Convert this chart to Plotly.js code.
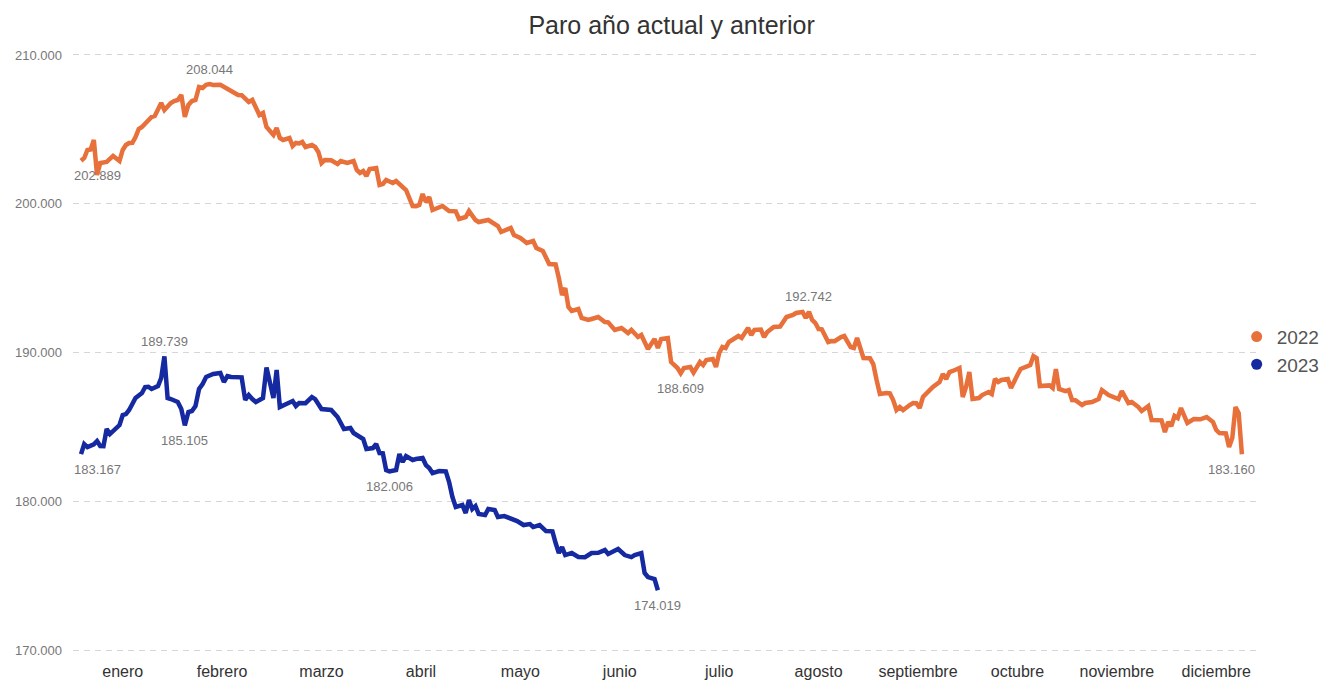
<!DOCTYPE html>
<html><head><meta charset="utf-8">
<script src="https://cdn.plot.ly/plotly-3.0.1.min.js"></script>
<style>html,body{margin:0;padding:0;background:#fff}#chart{width:1322px;height:684px}</style>
</head><body><div id="chart"></div>
<script>
const meses = ["enero","febrero","marzo","abril","mayo","junio","julio","agosto","septiembre","octubre","noviembre","diciembre"];
const series = ["2022","2023"];

const dias2022 = [3,4,5,6,7,8,9,10,11,13,14,15,16,17,18,19,20,21,22,24,25,26,27,28,29,31,
32,33,34,35,36,37,38,39,40,41,42,43,45,46,47,48,49,50,51,52,53,54,55,56,57,58,
60,61,62,63,65,66,67,68,69,70,72,73,74,75,76,78,80,81,83,85,86,87,88,89,90,
92,93,94,95,97,98,100,101,103,104,105,106,107,108,109,111,112,114,116,117,119,120,
122,123,126,127,129,130,133,134,136,138,140,141,143,145,147,148,149,150,151,
152,154,155,157,158,160,162,163,165,167,169,170,172,173,175,176,177,178,179,181,
182,184,185,186,188,189,191,192,193,195,196,197,198,199,200,202,203,204,206,207,208,210,211,212,
214,216,217,218,220,221,223,224,225,226,227,228,229,231,232,233,235,236,238,239,240,242,
244,245,246,247,249,250,251,252,253,254,256,257,258,259,260,262,263,265,266,267,268,269,271,272,273,
274,275,277,278,280,281,282,283,284,286,287,288,289,290,291,293,294,295,296,298,299,300,301,302,304,
305,306,307,309,310,312,314,315,317,318,320,321,323,324,326,327,329,330,333,334,
335,336,337,338,339,341,343,345,347,349,350,351,353,354,355,356,357,358];
const paro2022 = [202889,203075,203613,203650,204285,201930,202739,202760,202806,203210,203008,202873,203613,203949,204084,204100,204487,205025,205159,205630,205832,205900,206437,206773,206302,206773,
206907,206975,207311,205832,206639,206907,206975,207849,207781,207990,208044,207990,208000,207849,207714,207580,207378,207311,207300,207042,206840,206975,206504,205966,206101,205159,
204622,205092,204420,204285,204420,203882,204084,204050,204151,203815,203949,203815,203479,202739,202941,202920,202672,202873,202739,202873,202269,202067,202200,201865,202336,
202403,201260,201327,201596,201394,201529,201126,200924,199848,199830,199915,200655,200117,200453,199580,199781,199848,199512,199490,198974,199109,199512,
198907,198773,198907,198773,198504,198100,198369,197899,197697,197361,197496,197025,196823,195949,195920,195008,193865,194336,193058,
192789,192923,192318,192184,192251,192385,192050,192030,191512,191646,191310,191512,191041,191176,190234,190570,190907,190302,190907,190974,
189360,188957,188609,188957,189024,188650,189360,189159,189495,189562,189024,189963,190369,190302,190705,190974,191109,190974,191647,191176,191512,191540,191041,191376,
191713,191740,192050,192385,192520,192655,192722,192318,192742,192184,191982,191579,191560,190705,190772,190760,191041,191109,190369,190302,190974,189630,
189610,189226,188150,187209,187276,187250,186806,186134,186335,186134,186470,186604,186590,186268,187007,187478,187680,188016,188554,188218,188688,188756,188957,187007,187680,
188688,186873,186940,187141,187344,187209,188218,188016,188150,188218,187613,188150,188486,188890,188957,189159,189764,189630,187747,187814,187790,187613,188890,187545,187410,
187478,186806,186790,186470,186604,186671,186873,187478,187141,187074,186873,187410,186604,186671,186335,186066,186402,185461,185440,184654,
185325,185057,185730,185596,186268,185259,185529,185510,185663,185325,184789,184587,184560,183644,184250,186335,185932,183160];

const dias2023 = [3,4,5,7,8,9,10,11,12,14,15,16,17,18,19,20,22,23,24,25,27,28,29,30,31,
33,34,35,36,37,38,39,40,41,43,45,46,47,48,51,52,53,54,55,57,58,
60,61,62,64,66,67,68,70,72,73,75,78,80,82,84,85,87,88,89,
91,92,93,94,95,96,98,99,100,101,103,104,106,107,108,109,111,113,114,115,116,118,119,120,
121,122,123,125,126,128,129,131,133,135,137,139,140,142,144,146,147,148,149,150,
152,154,156,158,160,162,163,165,166,168,170,171,173,174,175,177,178];
const paro2023 = [183167,183848,183644,183830,184049,183713,183700,184856,184520,184923,185125,185797,185864,186134,186537,186940,187276,187680,187700,187545,187747,188285,189739,186940,186873,
186671,186200,185105,186000,186067,186401,187545,187881,188352,188554,188620,188016,188419,188352,188330,186806,187141,186873,186671,186940,188991,
186940,188822,186335,186537,186739,186401,186604,186590,187007,186873,186201,186134,185663,184856,184923,184587,184319,184184,183511,
183578,183848,183242,183220,182100,182006,182100,183175,182637,183041,182772,182839,182906,182434,182233,181896,182031,182010,181292,180284,179612,179746,179209,180083,
179478,179680,179142,179074,179478,179410,178940,179007,178872,178671,178402,178469,178268,178402,177998,177980,177190,176518,176921,176385,
176519,176250,176240,176519,176540,176720,176452,176720,176788,176385,176250,176385,176519,175175,174906,174772,174019];

const ticksY = [170000,180000,190000,200000,210000];

// Etiquetas de valor (día del año en cada serie)
const etiquetas2022 = [3,42,185,225,358];
const etiquetas2023 = [3,29,35,96,178];

const diasMes = [31,28,31,30,31,30,31,31,30,31,30,31];
function posMes(doy){
  let m = 0, acc = 0;
  while (m < 11 && doy > acc + diasMes[m]) { acc += diasMes[m]; m++; }
  return m + (doy - acc - 0.5) / diasMes[m];
}
function fmt(v){ return String(v).replace(/\B(?=(\d{3})+(?!\d))/g, '.'); }

const colores = {"2022":"#E8703A","2023":"#1529A0"};
const datos = {"2022":[dias2022,paro2022,etiquetas2022],"2023":[dias2023,paro2023,etiquetas2023]};

const traces = [];
const annotations = [];
const estiloEtiqueta = {
  "2022": {3:[-1,16],42:[1,0],185:[-1,0],225:[1,0],358:[-1,-10]},
  "2023": {3:[-1,16],29:[1,0],35:[-1,0],96:[-1,0],178:[-1,0]}
};
series.forEach(s => {
  const [d, v, et] = datos[s];
  traces.push({
    x: d.map(posMes), y: v, type: 'scatter', mode: 'lines',
    line: {color: colores[s], width: 4.5}, name: s, showlegend: false,
    hoverinfo: 'skip'
  });
  traces.push({
    x: [null], y: [null], type: 'scatter', mode: 'markers',
    marker: {color: colores[s], size: 11}, name: s, showlegend: true
  });
  et.forEach(day => {
    const i = d.indexOf(day);
    const st = estiloEtiqueta[s][day];
    annotations.push({
      x: posMes(d[i]), y: v[i], xref: 'x', yref: 'y', text: fmt(v[i]),
      showarrow: false, yanchor: 'middle', xanchor: 'center',
      yshift: st[0] * 15, xshift: st[1],
      font: {family: 'Liberation Sans, Arial, sans-serif', size: 13, color: '#777'}
    });
  });
});

const layout = {
  width: 1322, height: 684,
  margin: {l: 73, r: 64, t: 52, b: 31, autoexpand: false},
  paper_bgcolor: '#fff', plot_bgcolor: '#fff',
  separators: ',.',
  font: {family: 'Liberation Sans, Arial, sans-serif', color: '#333'},
  title: {text: 'Paro año actual y anterior', x: 0.508, xref: 'container', xanchor: 'center',
          y: 1 - 25/684, yref: 'container', yanchor: 'middle',
          font: {size: 25, color: '#333', family: 'Liberation Sans, Arial, sans-serif'}},
  xaxis: {range: [0, 11.92], tickvals: meses.map((m, i) => i + 0.5), ticktext: meses,
          showgrid: false, zeroline: false, showline: false, ticks: '',
          ticklabelstandoff: 7,
          tickfont: {size: 16, color: '#333'}, fixedrange: true},
  yaxis: {range: [169800, 210200], tickvals: ticksY, tickformat: ',d',
          showgrid: true, gridcolor: '#d6d6d6', griddash: '6px,5px', gridwidth: 1,
          zeroline: false, showline: false, ticks: '',
          ticklabelstandoff: 10,
          tickfont: {size: 13, color: '#777'}, fixedrange: true},
  legend: {x: 0.982, xanchor: 'left', y: 0.503, yanchor: 'middle',
           font: {size: 19, color: '#555'}, itemwidth: 30, tracegroupgap: 0,
           bgcolor: 'rgba(0,0,0,0)'},
  annotations: annotations,
  showlegend: true
};

Plotly.newPlot('chart', traces, layout, {displayModeBar: false, staticPlot: true});
</script>
</body></html>
